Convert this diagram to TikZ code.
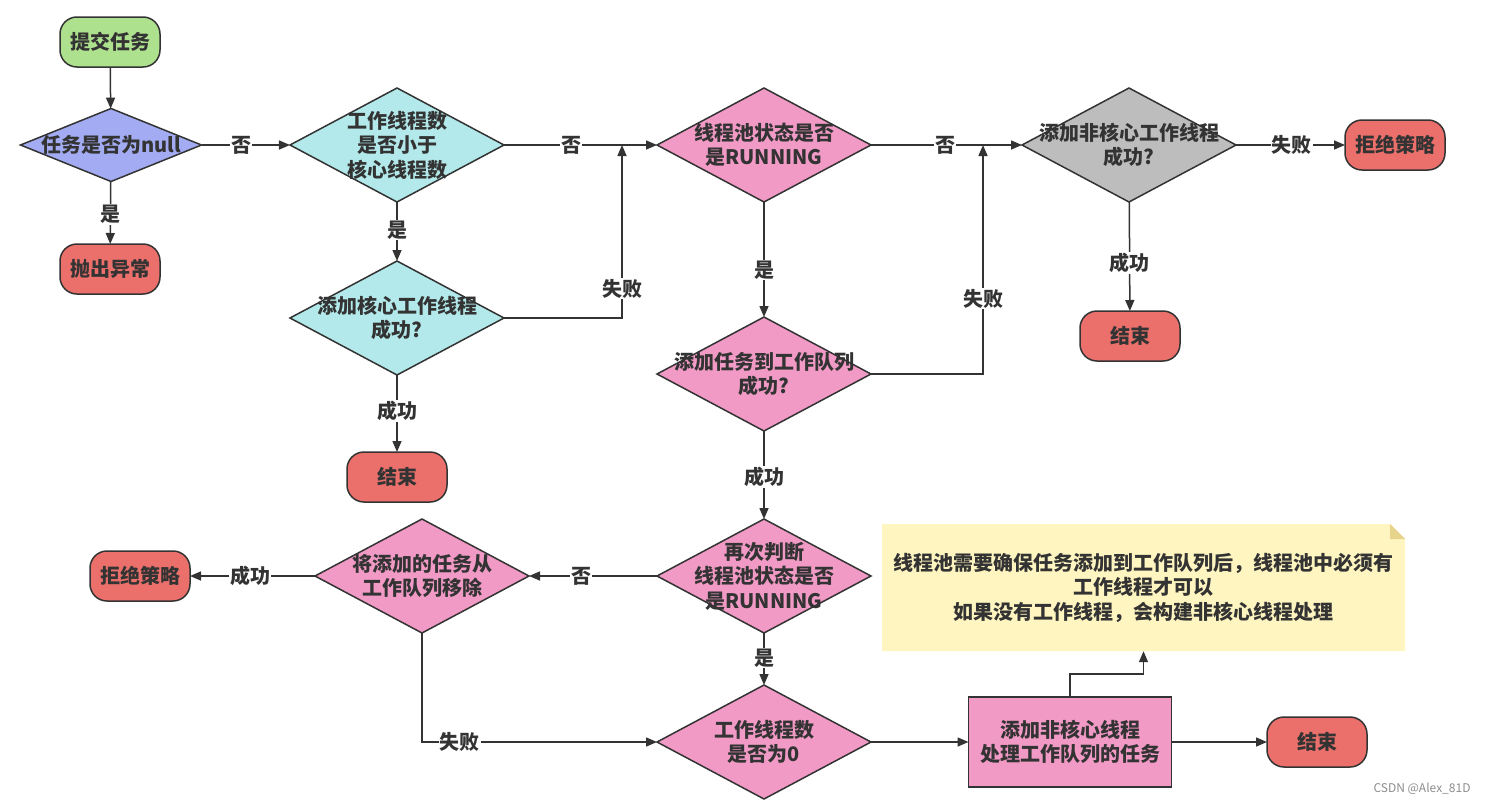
\documentclass[tikz,border=0pt]{standalone}
\usepackage{fontspec}
\setmainfont{Noto Sans CJK SC}
\usetikzlibrary{shapes.geometric,arrows.meta}
\definecolor{ink}{HTML}{333333}
\definecolor{greenc}{HTML}{AEE18E}
\definecolor{bluec}{HTML}{A3ACF2}
\definecolor{cyanc}{HTML}{B3E9EA}
\definecolor{pinkc}{HTML}{F19AC6}
\definecolor{grayc}{HTML}{BDBDBD}
\definecolor{redc}{HTML}{EB706B}
\definecolor{notec}{HTML}{FFF5C0}
\definecolor{foldc}{HTML}{E6D38C}
\tikzset{
  base/.style={draw=ink, line width=1.5pt, text=ink, font=\fontsize{20}{24.5}\selectfont\bfseries, outer sep=0pt},
  term/.style={base, rectangle, rounded corners=17pt, minimum width=100pt, minimum height=50pt, inner sep=0pt},
  dia/.style={base, diamond, minimum width=214pt, minimum height=114pt, inner sep=0pt},
  dtxt/.style={text=ink, font=\fontsize{20}{24.5}\selectfont\bfseries, align=center, inner sep=0pt},
  boxn/.style={base, rectangle, fill=pinkc, minimum width=203pt, minimum height=90pt, align=center, inner sep=0pt},
  arr/.style={draw=ink, line width=1.5pt, -{Triangle[length=11pt,width=9pt]}},
  lbl/.style={fill=white, text=ink, font=\fontsize{20}{24.5}\selectfont\bfseries, inner sep=1pt}
}
\begin{document}
\begin{tikzpicture}[x=1pt,y=-1pt]
\useasboundingbox (0,0) rectangle (1491,806);
% note
\fill[notec] (882,524) -- (1390,524) -- (1405,539) -- (1405,651) -- (882,651) -- cycle;
\fill[foldc] (1390,524) -- (1390,539) -- (1405,539) -- cycle;
\node[dtxt, minimum width=523pt, minimum height=127pt] (note) at (1143.5,587.5) {线程池需要确保任务添加到工作队列后，线程池中必须有\\工作线程才可以\\如果没有工作线程，会构建非核心线程处理};

% nodes
\node[term, fill=greenc] (submit) at (110,42) {提交任务};
\node[dia, minimum width=181pt, minimum height=73pt, fill=bluec, label={[dtxt]center:任务是否为null}] (null) at (111,145) {};
\node[term, fill=redc] (throw) at (110,269) {抛出异常};
\node[dia, fill=cyanc, label={[dtxt]center:{工作线程数\\是否小于\\核心线程数}}] (core) at (397,145) {};
\node[dia, fill=cyanc, label={[dtxt]center:{添加核心工作线程\\成功?}}] (addcore) at (397,318) {};
\node[term, fill=redc] (end1) at (397,477) {结束};
\node[dia, fill=pinkc, label={[dtxt]center:{线程池状态是否\\是RUNNING}}] (running) at (764,145) {};
\node[dia, fill=pinkc, label={[dtxt]center:{添加任务到工作队列\\成功?}}] (addqueue) at (764,374) {};
\node[dia, fill=grayc, label={[dtxt]center:{添加非核心工作线程\\成功?}}] (addnon) at (1129,145) {};
\node[term, fill=redc] (reject1) at (1395,145) {拒绝策略};
\node[term, fill=redc] (end2) at (1130,336) {结束};
\node[dia, fill=pinkc, label={[dtxt]center:{再次判断\\线程池状态是否\\是RUNNING}}] (recheck) at (764,576) {};
\node[dia, fill=pinkc, label={[dtxt]center:{将添加的任务从\\工作队列移除}}] (remove) at (422,576) {};
\node[term, fill=redc] (reject2) at (140,576) {拒绝策略};
\node[dia, fill=pinkc, label={[dtxt]center:{工作线程数\\是否为0}}] (zero) at (764,742) {};
\node[boxn] (process) at (1070,742) {添加非核心线程\\处理工作队列的任务};
\node[term, fill=redc] (end3) at (1317,742) {结束};
\node[text=black!45, font=\fontsize{12}{14}\selectfont, inner sep=0pt] (wm) at (1422,789) {CSDN @Alex\_81D};

% junction coordinates
\coordinate (j1) at (622,145);
\coordinate (j2) at (983,145);
\coordinate (j3) at (1070,674);

% connectors
\draw[arr] (submit) -- (null);
\draw[arr] (null) -- node[lbl, pos=0.45]{否} (core);
\draw[arr] (null) -- node[lbl, pos=0.53]{是} (throw);
\draw[arr] (core) -- node[lbl, pos=0.44]{否} (running);
\draw[arr] (core) -- node[lbl, pos=0.47]{是} (addcore);
\draw[arr] (addcore.east) -| node[lbl, pos=0.585]{失败} (j1);
\draw[arr] (addcore) -- node[lbl, pos=0.47]{成功} (end1);
\draw[arr] (running) -- node[lbl, pos=0.49]{否} (addnon);
\draw[arr] (running) -- node[lbl, pos=0.59]{是} (addqueue);
\draw[arr] (addqueue.east) -| node[lbl, pos=0.665]{失败} (j2);
\draw[arr] (addnon) -- node[lbl, pos=0.51]{失败} (reject1);
\draw[arr] (addnon) -- node[lbl, pos=0.56]{成功} (end2);
\draw[arr] (addqueue) -- node[lbl, pos=0.52]{成功} (recheck);
\draw[arr] (recheck) -- node[lbl, pos=0.59]{否} (remove);
\draw[arr] (remove) -- node[lbl, pos=0.52]{成功} (reject2);
\draw[arr] (remove.south) |- node[lbl, pos=0.58]{失败} (zero.west);
\draw[arr] (recheck) -- node[lbl, pos=0.48]{是} (zero);
\draw[arr] (zero) -- (process);
\draw[arr] (process) -- (end3);
\draw[arr] (process.north) -- (j3) -| (note.south);
\end{tikzpicture}
\end{document}
